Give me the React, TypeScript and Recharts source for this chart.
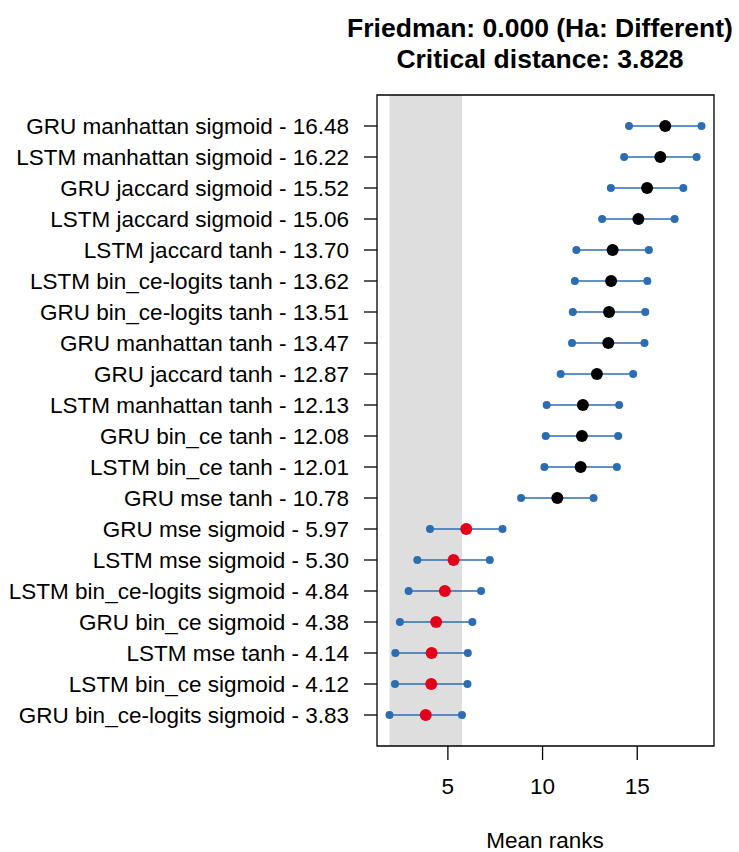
import React from "react";
import {
  ScatterChart,
  Scatter,
  XAxis,
  YAxis,
  ReferenceArea,
  ErrorBar,
} from "recharts";

const methods = [
  "GRU manhattan sigmoid",
  "LSTM manhattan sigmoid",
  "GRU jaccard sigmoid",
  "LSTM jaccard sigmoid",
  "LSTM jaccard tanh",
  "LSTM bin_ce-logits tanh",
  "GRU bin_ce-logits tanh",
  "GRU manhattan tanh",
  "GRU jaccard tanh",
  "LSTM manhattan tanh",
  "GRU bin_ce tanh",
  "LSTM bin_ce tanh",
  "GRU mse tanh",
  "GRU mse sigmoid",
  "LSTM mse sigmoid",
  "LSTM bin_ce-logits sigmoid",
  "GRU bin_ce sigmoid",
  "LSTM mse tanh",
  "LSTM bin_ce sigmoid",
  "GRU bin_ce-logits sigmoid",
];

const meanRanks = [
  16.48, 16.22, 15.52, 15.06, 13.7, 13.62, 13.51, 13.47, 12.87, 12.13, 12.08,
  12.01, 10.78, 5.97, 5.3, 4.84, 4.38, 4.14, 4.12, 3.83,
];

const criticalDistance = 3.828;
const friedmanP = "0.000";
const xTicks = [5, 10, 15];

const FONT = "'Liberation Sans', Arial, Helvetica, sans-serif";
const BLUE = "#2C6DB2";
const RED = "#E2001A";
const GRAY = "#DEDEDE";

const half = criticalDistance / 2;
const best = Math.min(...meanRanks);
const rows = meanRanks.map((m, i) => ({
  y: i + 1,
  mean: m,
  lo: m - half,
  hi: m + half,
  err: half,
  sig: m - best <= criticalDistance,
}));
const bandLo = best - half;
const bandHi = best + half;
const allLo = Math.min(...rows.map((r) => r.lo));
const allHi = Math.max(...rows.map((r) => r.hi));
const pad = (allHi - allLo) * 0.04;
const xDomain: [number, number] = [allLo - pad, allHi + pad];
const yTicks = rows.map((r) => r.y);

const W = 739;
const H = 852;
const AXIS_FS = 22.5;

export default function App() {
  return (
    <div style={{ position: "absolute", left: 0, top: 0, width: W, height: H, fontFamily: FONT }}>
      <ScatterChart
        width={W}
        height={H}
        margin={{ top: 95, right: 25, left: 0, bottom: 0 }}
      >
        <XAxis
          type="number"
          dataKey="mean"
          domain={xDomain}
          ticks={xTicks}
          allowDataOverflow
          axisLine={false}
          tickLine={{ stroke: "#000", strokeWidth: 1.3 }}
          tickSize={14}
          tickMargin={18}
          height={106}
          tick={{ fill: "#000", fontSize: AXIS_FS, fontFamily: FONT }}
        />
        <YAxis
          type="number"
          dataKey="y"
          domain={[0, 21]}
          reversed
          ticks={yTicks}
          interval={0}
          allowDataOverflow
          width={377}
          axisLine={false}
          tickLine={{ stroke: "#000", strokeWidth: 1.3 }}
          tickSize={13}
          tickMargin={15}
          tick={{ fill: "#000", fontSize: AXIS_FS, fontFamily: FONT }}
          tickFormatter={(v: number) =>
            `${methods[v - 1]} - ${meanRanks[v - 1].toFixed(2)}`
          }
        />
        <ReferenceArea
          x1={bandLo}
          x2={bandHi}
          y1={0}
          y2={21}
          fill={GRAY}
          fillOpacity={1}
          stroke="none"
        />
        <Scatter
          data={rows}
          dataKey="mean"
          isAnimationActive={false}
          shape={() => <g />}
        >
          <ErrorBar
            dataKey="err"
            direction="x"
            width={0}
            stroke={BLUE}
            strokeWidth={1.5}
            isAnimationActive={false}
          />
        </Scatter>
        <Scatter
          data={rows.map((r) => ({ mean: r.lo, y: r.y }))}
          dataKey="mean"
          isAnimationActive={false}
          shape={(p: any) => <circle cx={p.cx} cy={p.cy} r={4} fill={BLUE} />}
        />
        <Scatter
          data={rows.map((r) => ({ mean: r.hi, y: r.y }))}
          dataKey="mean"
          isAnimationActive={false}
          shape={(p: any) => <circle cx={p.cx} cy={p.cy} r={4} fill={BLUE} />}
        />
        <Scatter
          data={rows}
          dataKey="mean"
          isAnimationActive={false}
          shape={(p: any) => (
            <circle
              cx={p.cx}
              cy={p.cy}
              r={6}
              fill={p.payload && p.payload.sig ? RED : "#000"}
            />
          )}
        />
        <ReferenceArea
          x1={xDomain[0]}
          x2={xDomain[1]}
          y1={0}
          y2={21}
          fill="none"
          stroke="#000"
          strokeWidth={1.3}
          ifOverflow="visible"
        />
      </ScatterChart>
      <svg
        width={W}
        height={H}
        style={{ position: "absolute", left: 0, top: 0, pointerEvents: "none" }}
      >
        <text
          x={540}
          y={37}
          textAnchor="middle"
          fontSize={26.5}
          fontWeight="bold"
          fontFamily={FONT}
          fill="#000"
        >
          {`Friedman: ${friedmanP} (Ha: Different)`}
        </text>
        <text
          x={540}
          y={68}
          textAnchor="middle"
          fontSize={26.5}
          fontWeight="bold"
          fontFamily={FONT}
          fill="#000"
        >
          {`Critical distance: ${criticalDistance.toFixed(3)}`}
        </text>
        <text
          x={545}
          y={847.5}
          textAnchor="middle"
          fontSize={AXIS_FS}
          fontFamily={FONT}
          fill="#000"
        >
          Mean ranks
        </text>
      </svg>
    </div>
  );
}
